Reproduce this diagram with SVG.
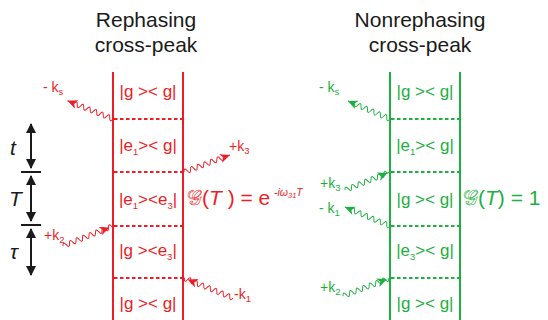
<svg xmlns="http://www.w3.org/2000/svg" width="548" height="320" viewBox="0 0 548 320">
<style>
.title{font-family:"Liberation Sans",Arial,sans-serif;font-size:21px;fill:#1a1a1a;text-anchor:middle}
.cell{font-family:"Liberation Sans",Arial,sans-serif;font-size:17px;text-anchor:middle}
.lab{font-family:"Liberation Sans",Arial,sans-serif;font-size:14px}
.sub{font-size:9.5px}
.formula{font-family:"Liberation Sans",Arial,sans-serif;font-size:21px}
.tl{font-family:"Liberation Sans",Arial,sans-serif;font-style:italic;font-size:21px;fill:#1a1a1a}
.red{fill:#EE1C25}
.green{fill:#1CB040}
.rl{stroke:#EE1C25;stroke-width:2;fill:none}
.gl{stroke:#1CB040;stroke-width:2;fill:none}
.dash{stroke-dasharray:3.5,2.5}
.wave{stroke-width:1;fill:none}
.tb{stroke:#1a1a1a;stroke-width:2;fill:none}
</style>
<defs>
<path id="ah" d="M0,0 L-10,-4.5 L-7,0 L-10,4.5 Z"/>
<marker id="blk" viewBox="0 0 10 10" refX="9" refY="5" markerWidth="5" markerHeight="5" orient="auto-start-reverse">
<path d="M0,0 L10,5 L0,10 Z" fill="#1a1a1a"/>
</marker>
</defs>

<text class="title" x="146" y="27">Rephasing</text>
<text class="title" x="146" y="52">cross-peak</text>
<text class="title" x="420" y="27">Nonrephasing</text>
<text class="title" x="420" y="52">cross-peak</text>

<g id="timeaxis">
<line class="tb" x1="31" y1="124" x2="31" y2="168" marker-start="url(#blk)" marker-end="url(#blk)"/>
<line class="tb" x1="31" y1="176" x2="31" y2="221" marker-start="url(#blk)" marker-end="url(#blk)"/>
<line class="tb" x1="31" y1="229" x2="31" y2="275" marker-start="url(#blk)" marker-end="url(#blk)"/>
<line class="tb" x1="21" y1="172" x2="41" y2="172"/>
<line class="tb" x1="21" y1="225" x2="41" y2="225"/>
<text class="tl" x="10" y="155">t</text>
<text class="tl" x="9" y="206">T</text>
<text class="tl" x="10" y="259">τ</text>
</g>

<g id="rephasing">
<line class="rl" x1="113" y1="72" x2="113" y2="320"/>
<line class="rl" x1="183" y1="72" x2="183" y2="320"/>
<line class="rl dash" x1="114" y1="119" x2="182" y2="119"/>
<line class="rl dash" x1="114" y1="172" x2="182" y2="172"/>
<line class="rl dash" x1="114" y1="226" x2="182" y2="226"/>
<line class="rl dash" x1="114" y1="278" x2="182" y2="278"/>
<text class="cell red" x="148" y="97">|g &gt;&lt; g|</text>
<text class="cell red" x="148" y="151">|e<tspan class="sub" dy="4">1</tspan><tspan dy="-4">&gt;&lt; g|</tspan></text>
<text class="cell red" x="148" y="205">|e<tspan class="sub" dy="4">1</tspan><tspan dy="-4">&gt;&lt;e</tspan><tspan class="sub" dy="4">3</tspan><tspan dy="-4">|</tspan></text>
<text class="cell red" x="148" y="256">|g &gt;&lt;e<tspan class="sub" dy="4">3</tspan><tspan dy="-4">|</tspan></text>
<text class="cell red" x="148" y="309">|g &gt;&lt; g|</text>
<text class="formula red" x="187" y="205"><tspan style="fill:#fff;stroke:#EE1C25;stroke-width:0.5" font-family="'DejaVu Serif',serif">𝒢</tspan>(<tspan font-style="italic">T</tspan> ) = e</text>
<text class="red" x="274" y="196" font-family="Liberation Sans,Arial,sans-serif" font-size="10.5" font-style="italic">-iω<tspan font-size="7.5" dy="2">31</tspan><tspan dy="-2">T</tspan></text>
</g>

<g id="nonrephasing">
<line class="gl" x1="390" y1="72" x2="390" y2="320"/>
<line class="gl" x1="460" y1="72" x2="460" y2="320"/>
<line class="gl dash" x1="391" y1="119" x2="459" y2="119"/>
<line class="gl dash" x1="391" y1="172" x2="459" y2="172"/>
<line class="gl dash" x1="391" y1="226" x2="459" y2="226"/>
<line class="gl dash" x1="391" y1="278" x2="459" y2="278"/>
<text class="cell green" x="425" y="97">|g &gt;&lt; g|</text>
<text class="cell green" x="425" y="151">|e<tspan class="sub" dy="4">1</tspan><tspan dy="-4">&gt;&lt; g|</tspan></text>
<text class="cell green" x="425" y="205">|g &gt;&lt; g|</text>
<text class="cell green" x="425" y="256">|e<tspan class="sub" dy="4">3</tspan><tspan dy="-4">&gt;&lt; g|</tspan></text>
<text class="cell green" x="425" y="309">|g &gt;&lt; g|</text>
<text class="formula green" x="463" y="205"><tspan style="fill:#fff;stroke:#1CB040;stroke-width:0.5" font-family="'DejaVu Serif',serif">𝒢</tspan>(<tspan font-style="italic">T</tspan>) = 1</text>
</g>

<g id="connectors">
<g id="r-ks" transform="translate(113,119) rotate(201.8)" stroke="#EE1C25" fill="#EE1C25">
<path class="wave" d="M0,0 q1.75,-5 3.5,0 t3.5,0 t3.5,0 t3.5,0 t3.5,0 t3.5,0 t3.5,0 t3.5,0 t3.5,0 t3.5,0 t3.5,0 t3.5,0 l7,0"/>
<use href="#ah" x="49" y="0" stroke="none"/>
</g>
<g id="r-k3" transform="translate(184,172) rotate(-20.3)" stroke="#EE1C25" fill="#EE1C25">
<path class="wave" d="M0,0 q1.75,-5 3.5,0 t3.5,0 t3.5,0 t3.5,0 t3.5,0 t3.5,0 t3.5,0 t3.5,0 t3.5,0 t3.5,0 t3.5,0 t3.5,0 l7,0"/>
<use href="#ah" x="49" y="0" stroke="none"/>
</g>
<g id="r-k2" transform="translate(63,246) rotate(-21.8)" stroke="#EE1C25" fill="#EE1C25">
<path class="wave" d="M0,0 q1.75,-5 3.5,0 t3.5,0 t3.5,0 t3.5,0 t3.5,0 t3.5,0 t3.5,0 t3.5,0 t3.5,0 t3.5,0 t3.5,0 t3.5,0 t3.5,0 t3.5,0 t3.5,0 l1.5,0"/>
<use href="#ah" x="50" y="0" stroke="none"/>
</g>
<g id="r-k1" transform="translate(233,298) rotate(202.2)" stroke="#EE1C25" fill="#EE1C25">
<path class="wave" d="M0,0 q1.75,-5 3.5,0 t3.5,0 t3.5,0 t3.5,0 t3.5,0 t3.5,0 t3.5,0 t3.5,0 t3.5,0 t3.5,0 t3.5,0 t3.5,0 t3.5,0 t3.5,0 t3.5,0 l0.5,0"/>
<use href="#ah" x="49" y="0" stroke="none"/>
</g>
<g id="g-ks" transform="translate(390,119) rotate(203.2)" stroke="#1CB040" fill="#1CB040">
<path class="wave" d="M0,0 q1.75,-5 3.5,0 t3.5,0 t3.5,0 t3.5,0 t3.5,0 t3.5,0 t3.5,0 t3.5,0 t3.5,0 t3.5,0 t3.5,0 l7,0"/>
<use href="#ah" x="46" y="0" stroke="none"/>
</g>
<g id="g-k3" transform="translate(345,190) rotate(-21.8)" stroke="#1CB040" fill="#1CB040">
<path class="wave" d="M0,0 q1.75,-5 3.5,0 t3.5,0 t3.5,0 t3.5,0 t3.5,0 t3.5,0 t3.5,0 t3.5,0 t3.5,0 t3.5,0 t3.5,0 t3.5,0 t3.5,0 l3,0"/>
<use href="#ah" x="46" y="0" stroke="none"/>
</g>
<g id="g-k1" transform="translate(390,226) rotate(202.9)" stroke="#1CB040" fill="#1CB040">
<path class="wave" d="M0,0 q1.75,-5 3.5,0 t3.5,0 t3.5,0 t3.5,0 t3.5,0 t3.5,0 t3.5,0 t3.5,0 t3.5,0 t3.5,0 t3.5,0 t3.5,0 l7,0"/>
<use href="#ah" x="49" y="0" stroke="none"/>
</g>
<g id="g-k2" transform="translate(343,296) rotate(-21)" stroke="#1CB040" fill="#1CB040">
<path class="wave" d="M0,0 q1.75,-5 3.5,0 t3.5,0 t3.5,0 t3.5,0 t3.5,0 t3.5,0 t3.5,0 t3.5,0 t3.5,0 t3.5,0 t3.5,0 t3.5,0 t3.5,0 t3.5,0 l1,0"/>
<use href="#ah" x="47" y="0" stroke="none"/>
</g>
</g>

<g id="labels">
<text class="lab red" x="43" y="92">- k<tspan class="sub" dy="3">s</tspan></text>
<text class="lab red" x="229" y="151">+k<tspan class="sub" dy="3">3</tspan></text>
<text class="lab red" x="44" y="240">+k<tspan class="sub" dy="3">2</tspan></text>
<text class="lab red" x="234" y="299">-k<tspan class="sub" dy="3">1</tspan></text>
<text class="lab green" x="319" y="92">- k<tspan class="sub" dy="3">s</tspan></text>
<text class="lab green" x="320" y="188">+k<tspan class="sub" dy="3">3</tspan></text>
<text class="lab green" x="319" y="213">- k<tspan class="sub" dy="3">1</tspan></text>
<text class="lab green" x="320" y="292">+k<tspan class="sub" dy="3">2</tspan></text>
</g>
</svg>
